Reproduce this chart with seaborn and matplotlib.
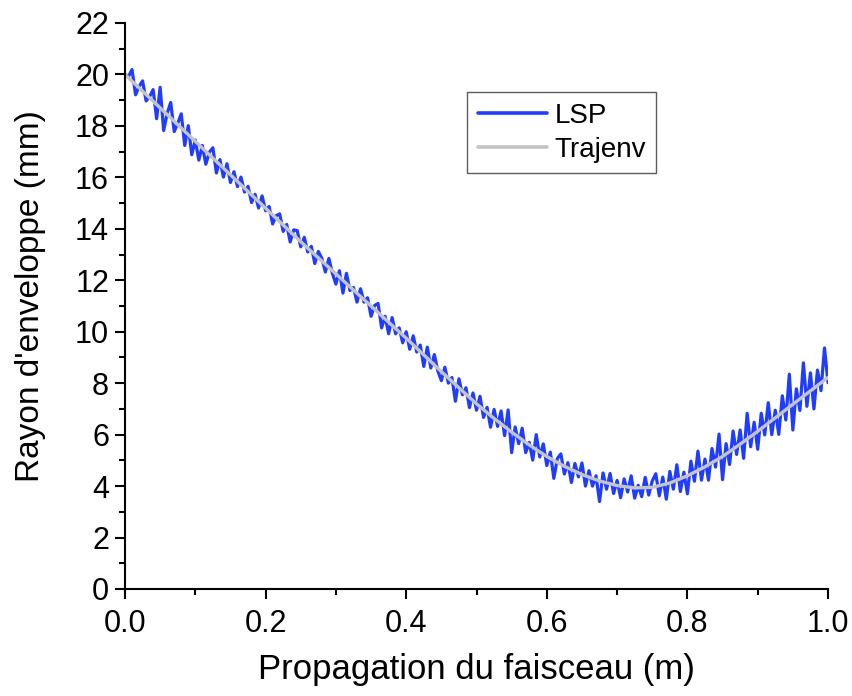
import numpy as np
import pandas as pd
import matplotlib
matplotlib.use("Agg")
import matplotlib.pyplot as plt
import seaborn as sns
from matplotlib.ticker import MultipleLocator

# ---------------- data ----------------
traj_x = [0.000, 0.025, 0.050, 0.075, 0.100, 0.125, 0.150, 0.175, 0.200, 0.225,
          0.250, 0.275, 0.300, 0.325, 0.350, 0.375, 0.400, 0.425, 0.450, 0.475,
          0.500, 0.525, 0.550, 0.575, 0.600, 0.625, 0.650, 0.675, 0.700, 0.725,
          0.750, 0.775, 0.800, 0.825, 0.850, 0.875, 0.900, 0.925, 0.950, 0.975, 1.000]
traj_y = [20.00, 19.35, 18.70, 18.05, 17.40, 16.75, 16.10, 15.45, 14.80, 14.15,
          13.50, 12.87, 12.25, 11.62, 11.00, 10.37, 9.75, 9.10, 8.45, 7.82,
          7.20, 6.63, 6.10, 5.60, 5.15, 4.77, 4.45, 4.20, 4.02, 3.93,
          3.95, 4.12, 4.40, 4.75, 5.15, 5.63, 6.13, 6.65, 7.18, 7.70, 8.22]

lsp_step = 0.005
lsp_y = [
    20.00, 19.92, 20.19, 19.21, 19.53, 19.75, 18.97, 19.14, 19.41, 18.28,
    19.50, 17.82, 18.49, 18.91, 17.78, 18.10, 18.47, 17.24, 18.01, 16.88,
    17.45, 16.67, 17.24, 16.51, 16.98, 17.15, 16.17, 16.69, 16.01, 16.53,
    15.80, 16.22, 15.64, 16.01, 15.43, 15.65, 15.02, 15.34, 14.81, 15.28,
    14.70, 14.87, 14.19, 14.51, 14.58, 13.90, 14.17, 13.49, 13.96, 13.93,
    13.30, 13.67, 13.10, 13.32, 12.65, 13.12, 12.85, 12.32, 12.85, 12.27,
    11.85, 12.37, 11.50, 12.27, 11.60, 11.72, 11.15, 11.67, 11.15, 11.32,
    10.60, 11.02, 11.10, 10.15, 10.60, 9.92, 10.55, 9.92, 10.15, 9.57,
    10.00, 9.32, 9.84, 9.21, 9.48, 8.65, 9.40, 8.59, 9.11, 8.48,
    8.10, 8.62, 8.00, 8.22, 7.30, 8.17, 7.55, 7.82, 7.05, 7.62,
    6.95, 7.49, 6.67, 7.06, 6.29, 6.98, 6.32, 6.92, 5.96, 6.96,
    5.30, 6.30, 5.65, 6.25, 5.30, 5.70, 5.01, 6.00, 5.13, 5.64,
    4.80, 5.32, 4.30, 5.07, 5.25, 4.47, 4.91, 4.14, 4.88, 4.36,
    4.90, 4.00, 4.60, 4.00, 4.40, 3.40, 4.51, 3.88, 4.49, 3.71,
    4.22, 3.55, 4.28, 3.77, 4.40, 3.53, 4.03, 3.59, 4.34, 3.65,
    4.20, 4.48, 3.62, 4.35, 3.49, 4.57, 3.88, 4.83, 3.79, 4.54,
    3.70, 4.97, 4.19, 5.36, 4.23, 5.05, 4.23, 5.46, 4.74, 6.02,
    4.25, 5.65, 4.84, 6.14, 5.23, 6.18, 5.08, 6.83, 5.53, 6.48,
    5.43, 6.83, 5.99, 7.24, 6.00, 6.95, 6.01, 7.51, 6.57, 8.35,
    6.18, 7.78, 6.94, 8.79, 7.10, 8.40, 7.00, 8.51, 7.71, 9.37,
    8.02,
]
lsp_x = [round(i * lsp_step, 4) for i in range(len(lsp_y))]

x_label = "Propagation du faisceau (m)"
y_label = "Rayon d'enveloppe (mm)"
series_names = ["LSP", "Trajenv"]

# ---------------- plot ----------------
sns.set_style("ticks")
plt.rcParams['font.family'] = ['Liberation Sans', 'DejaVu Sans']
plt.rcParams['text.color'] = 'black'
plt.rcParams['axes.labelcolor'] = 'black'
plt.rcParams['xtick.color'] = 'black'
plt.rcParams['ytick.color'] = 'black'

fig = plt.figure(figsize=(8.52, 6.96), dpi=100)
ax = fig.add_axes([125/852, 1 - 589/696, (828-125)/852, (589-23)/696])

df_lsp = pd.DataFrame({"x": lsp_x, "y": lsp_y})
df_traj = pd.DataFrame({"x": traj_x, "y": traj_y})

sns.lineplot(data=df_lsp, x="x", y="y", ax=ax, color="#1f3cff", lw=2.3,
             label=series_names[0], estimator=None, sort=True)
sns.lineplot(data=df_traj, x="x", y="y", ax=ax, color="#c4c4c4", lw=2.4,
             label=series_names[1], estimator=None, sort=True)

ax.set_xlim(0, 1.0)
ax.set_ylim(0, 22)
ax.xaxis.set_major_locator(MultipleLocator(0.2))
ax.xaxis.set_minor_locator(MultipleLocator(0.1))
ax.yaxis.set_major_locator(MultipleLocator(2))
ax.yaxis.set_minor_locator(MultipleLocator(1))
ax.set_xticklabels([f"{v:.1f}" for v in ax.get_xticks()])

for s in ["top", "right"]:
    ax.spines[s].set_visible(False)
for s in ["left", "bottom"]:
    ax.spines[s].set_linewidth(1.5)
    ax.spines[s].set_color("black")

ax.tick_params(which="major", direction="out", length=7.5, width=1.5,
               labelsize=22, colors="black", labelcolor="black", pad=4)
ax.tick_params(which="minor", direction="out", length=4, width=1.5)
ax.tick_params(axis="x", which="major", pad=7)

ax.set_xlabel(x_label, fontsize=25, labelpad=10, color="black")
ax.set_ylabel(y_label, fontsize=24, color="black")
ax.yaxis.set_label_coords(-0.112, 0.518)

leg = ax.legend(loc="upper left", bbox_to_anchor=(0.487, 0.878), fontsize=20,
                frameon=True, fancybox=False, shadow=False,
                handlelength=2.5, handletextpad=0.25, borderpad=0.38,
                labelspacing=0.3, borderaxespad=0)
leg.get_frame().set_edgecolor("#333333")
leg.get_frame().set_linewidth(1.0)
for t in leg.get_texts():
    t.set_color("black")
for h in leg.get_lines():
    h.set_linewidth(2.6)

fig.savefig("out.png", dpi=100)
